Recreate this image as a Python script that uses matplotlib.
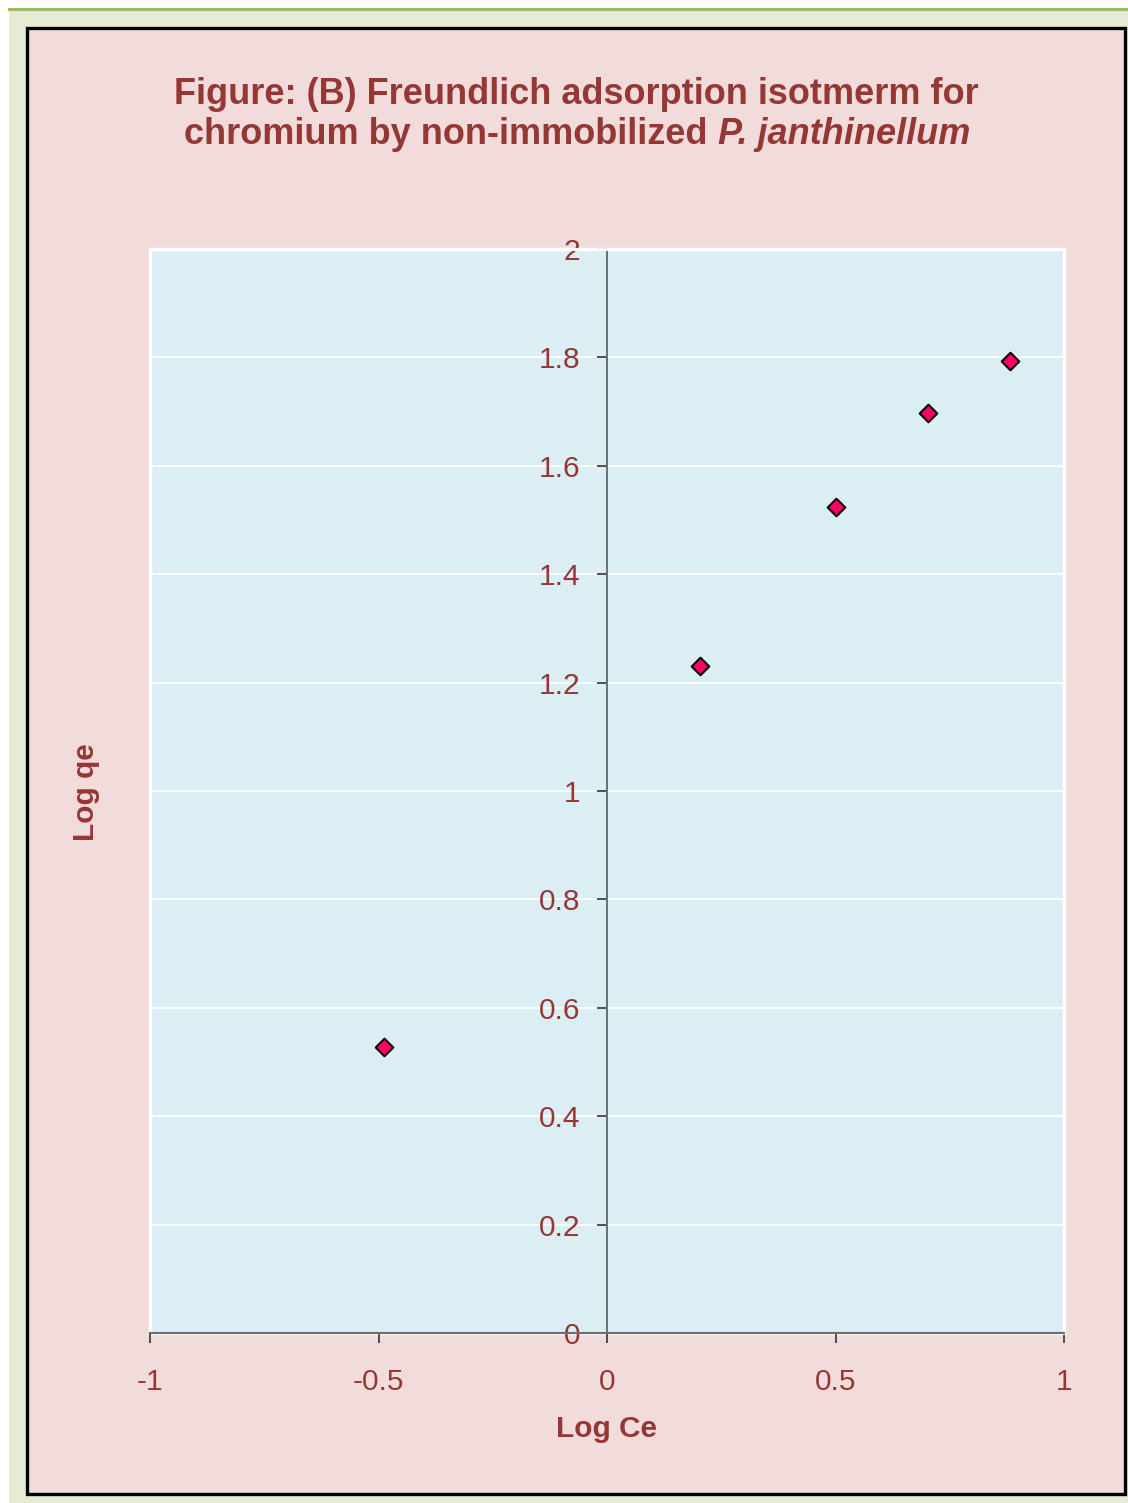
import matplotlib.pyplot as plt
from matplotlib.patches import Rectangle
from matplotlib.lines import Line2D

plt.rcParams['font.family'] = ['Liberation Sans', 'DejaVu Sans']

# data
log_ce = [-0.488, 0.204, 0.501, 0.702, 0.882]
log_qe = [0.528, 1.231, 1.524, 1.697, 1.793]
x_ticks = [-1, -0.5, 0, 0.5, 1]
x_tick_labels = ["-1", "-0.5", "0", "0.5", "1"]
y_ticks = [0, 0.2, 0.4, 0.6, 0.8, 1, 1.2, 1.4, 1.6, 1.8, 2]
y_tick_labels = ["0", "0.2", "0.4", "0.6", "0.8", "1", "1.2", "1.4", "1.6", "1.8", "2"]

W, H = 1128, 1503
red = "#953735"

fig = plt.figure(figsize=(W / 100, H / 100), dpi=100)
fig.patch.set_facecolor("white")


def fx(px):
    return px / W


def fy(py):
    return 1 - py / H


# page background + green rule on top
fig.add_artist(Rectangle((fx(9), 0), 1 - fx(9), fy(9), transform=fig.transFigure,
                         facecolor="#E6EBD5", edgecolor="none", zorder=0))
fig.add_artist(Line2D([fx(9), 1], [fy(9), fy(9)], transform=fig.transFigure,
                      color="#9BBB59", lw=2.2, zorder=1))
# framed pink chart area
fig.add_artist(Rectangle((fx(27), fy(1494)), fx(1125 - 27), (1494 - 28) / H,
                         transform=fig.transFigure, facecolor="#F2DCDB",
                         edgecolor="black", lw=2.4, zorder=1))

# title
fig.text(fx(576), fy(94), "Figure: (B) Freundlich adsorption isotmerm for",
         ha="center", va="center", fontsize=26, fontweight="bold", color=red, zorder=3)
fig.text(fx(718), fy(135), "chromium by non-immobilized ", ha="right", va="center",
         fontsize=26, fontweight="bold", color=red, zorder=3)
fig.text(fx(718), fy(135), "P. janthinellum", ha="left", va="center",
         fontsize=26, fontweight="bold", fontstyle="italic", color=red, zorder=3)

ax = fig.add_axes([fx(150), fy(1333), fx(1064 - 150), (1333 - 249) / H])
ax.set_zorder(2)
ax.set_facecolor("#DBEEF3")
ax.set_xlim(-1, 1)
ax.set_ylim(0, 2)

ax.spines["left"].set_position(("data", 0))
ax.spines["left"].set_color("#6E6E6E")
ax.spines["left"].set_linewidth(1.4)
ax.spines["bottom"].set_color("#6E6E6E")
ax.spines["bottom"].set_linewidth(1.6)
ax.spines["top"].set_color("white")
ax.spines["right"].set_color("white")
ax.spines["top"].set_linewidth(2)
ax.spines["right"].set_linewidth(2)
ax.add_patch(Rectangle((0, 0), 1, 1, transform=ax.transAxes, fill=False,
                       edgecolor="white", lw=2.5, zorder=0.5, clip_on=False))

ax.set_yticks(y_ticks)
ax.set_yticklabels(y_tick_labels)
ax.set_xticks(x_ticks)
ax.set_xticklabels(x_tick_labels)
ax.tick_params(axis="both", direction="out", length=7, width=1.2, color="#333333",
               labelsize=21.5, labelcolor=red)
ax.tick_params(axis="x", pad=18)
ax.tick_params(axis="y", pad=12)
ax.grid(axis="y", color="white", lw=1.2)
ax.set_axisbelow(True)

ax.scatter(log_ce, log_qe, marker="D", s=80, facecolor="#FF0066",
           edgecolor="black", linewidth=1.5, zorder=3)

ax.set_xlabel("Log Ce", fontsize=21.5, fontweight="bold", color=red, labelpad=14)
fig.text(fx(86), fy(792), "Log qe", rotation=90, ha="center", va="center",
         fontsize=21.5, fontweight="bold", color=red, zorder=3)

fig.savefig("out.png", dpi=100, facecolor=fig.get_facecolor())
